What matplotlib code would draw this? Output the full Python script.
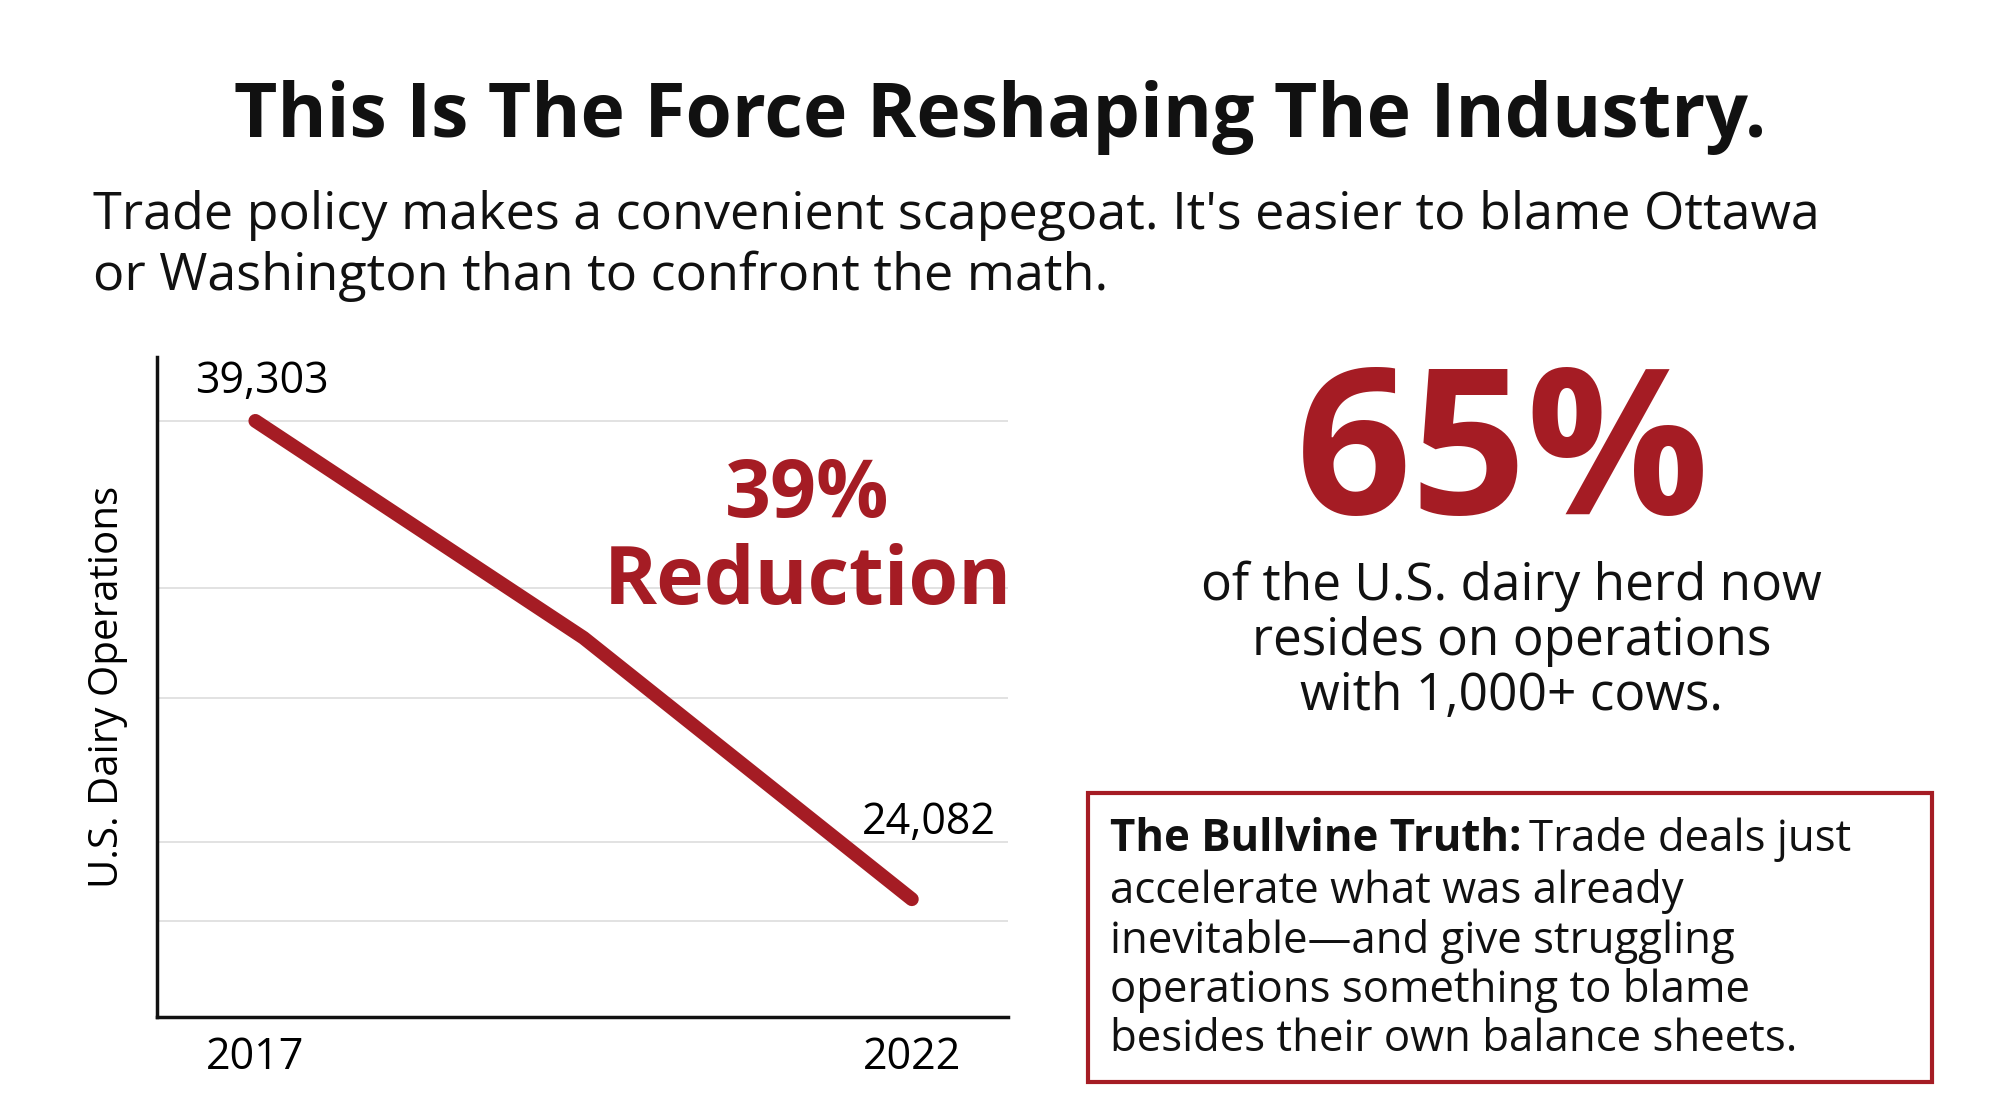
import matplotlib.pyplot as plt
from matplotlib.patches import Rectangle

years = [2017, 2019.5, 2022]
operations = [39303, 32400, 24082]
grid_values = [39303, 33986, 30495, 25909, 23392]

RED = '#a51c24'
W, H = 1568, 875  # reference layout units

def fx(x):
    return x / W

def fy(y):
    return 1 - y / H

plt.rcParams['font.family'] = ['Open Sans', 'DejaVu Sans']
fig = plt.figure(figsize=(20, 11.16), dpi=100)
fig.patch.set_facecolor('white')

fig.text(fx(784), fy(92), 'This Is The Force Reshaping The Industry.', ha='center', va='center',
         fontsize=54, fontweight='bold', color='#111111')
fig.text(fx(73), fy(193), "Trade policy makes a convenient scapegoat. It's easier to blame Ottawa\nor Washington than to confront the math.",
         ha='left', va='center', fontsize=37.5, color='#111111', linespacing=1.25)

ax = fig.add_axes([fx(123), fy(797), fx(790 - 123), fy(280) - fy(797)])
ax.plot(years, operations, color=RED, lw=10, solid_capstyle='round', solid_joinstyle='round')
ax.set_xlim(2016.25, 2022.73)
ax.set_ylim(20348, 41333)
ax.set_yticks(grid_values)
ax.set_yticklabels([])
ax.tick_params(left=False, bottom=False)
ax.grid(axis='y', color='#dddddd', lw=1.2)
ax.set_xticks([2017, 2022])
ax.set_xticklabels(['2017', '2022'], fontsize=31)
ax.tick_params(axis='x', pad=10)
for s in ['top', 'right']:
    ax.spines[s].set_visible(False)
for s in ['left', 'bottom']:
    ax.spines[s].set_linewidth(2.5)
    ax.spines[s].set_color('#111111')
ax.set_ylabel('U.S. Dairy Operations', fontsize=29, labelpad=14)
ax.annotate(f'{operations[0]:,}', (years[0], operations[0]), xytext=(5, 28), textcoords='offset points',
            ha='center', va='center', fontsize=31)
ax.annotate(f'{operations[-1]:,}', (years[-1], operations[-1]), xytext=(12, 55), textcoords='offset points',
            ha='center', va='center', fontsize=31)
fig.text(fx(633), fy(423), '39%\nReduction', ha='center', va='center',
         fontsize=58, fontweight='bold', color=RED, linespacing=1.12)

fig.text(fx(1178), fy(362), '65%', ha='center', va='center', fontsize=146, fontweight='bold',
         color=RED)
fig.text(fx(1185), fy(503), 'of the U.S. dairy herd now\nresides on operations\nwith 1,000+ cows.',
         ha='center', va='center', fontsize=37, color='#111111', linespacing=1.1)

fig.patches.append(Rectangle((fx(853), fy(848)), fx(1515 - 853), fy(622) - fy(848),
                             transform=fig.transFigure, fill=False, edgecolor=RED, lw=3))
bold = fig.text(fx(870), fy(658), 'The Bullvine Truth:', ha='left', va='center', fontsize=31.5,
                fontweight='bold', color='#111111')
r = fig.canvas.get_renderer()
bb = bold.get_window_extent(r).transformed(fig.transFigure.inverted())
fig.text(bb.x1 + 0.004, fy(658), 'Trade deals just', ha='left', va='center', fontsize=31.5, color='#111111')
fig.text(fx(870), fy(757), 'accelerate what was already\ninevitable\u2014and give struggling\noperations something to blame\nbesides their own balance sheets.',
         ha='left', va='center', fontsize=31.5, color='#111111', linespacing=1.13)

fig.savefig('out.png', dpi=100)
